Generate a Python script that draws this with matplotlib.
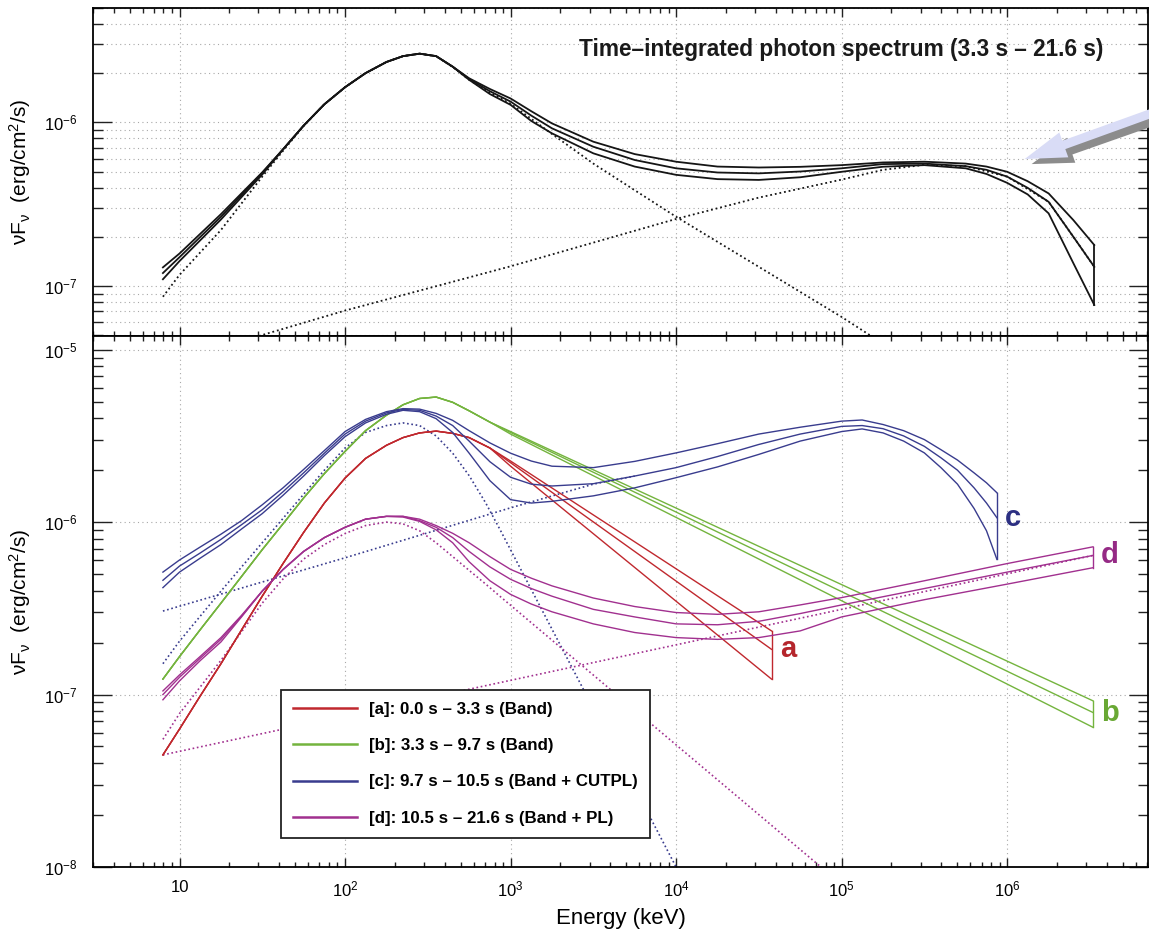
import numpy as np
import matplotlib
matplotlib.use("Agg")
import matplotlib.pyplot as plt
from matplotlib.ticker import LogLocator, FixedLocator, FuncFormatter, NullFormatter
from matplotlib.lines import Line2D

plt.rcParams['font.family'] = ['Liberation Sans', 'DejaVu Sans']
plt.rcParams['mathtext.fontset'] = 'custom'
plt.rcParams['mathtext.rm'] = 'Liberation Sans'
plt.rcParams['mathtext.it'] = 'Liberation Sans:italic'
plt.rcParams['mathtext.bf'] = 'Liberation Sans:bold'

# ---- time-integrated spectrum (upper panel), keV and erg/cm^2/s ----
top_energy = [7.94, 10, 17.8, 31.6, 42.2, 56.2, 75, 100, 133, 178, 224, 282, 355,
              447, 562, 750, 1000, 1334, 1778, 3162, 5623, 1e4, 1.78e4, 3.16e4,
              5.62e4, 1e5, 1.78e5, 3.16e5, 5.62e5, 7.5e5, 1e6, 1.33e6, 1.78e6,
              2.51e6, 3.36e6]
top_mid = [1.20e-7, 1.50e-7, 2.65e-7, 4.90e-7, 6.84e-7, 9.55e-7, 1.29e-6, 1.64e-6,
           2.00e-6, 2.34e-6, 2.54e-6, 2.63e-6, 2.54e-6, 2.19e-6, 1.84e-6, 1.55e-6,
           1.34e-6, 1.10e-6, 9.20e-7, 7.10e-7, 5.89e-7, 5.24e-7, 4.94e-7, 4.88e-7,
           5.01e-7, 5.24e-7, 5.56e-7, 5.60e-7, 5.40e-7, 5.13e-7, 4.66e-7, 3.98e-7,
           3.27e-7, 2.00e-7, 1.31e-7]
top_hi = [1.30e-7, 1.58e-7, 2.75e-7, 4.95e-7, 6.84e-7, 9.55e-7, 1.29e-6, 1.64e-6,
          2.00e-6, 2.34e-6, 2.54e-6, 2.63e-6, 2.54e-6, 2.19e-6, 1.86e-6, 1.60e-6,
          1.40e-6, 1.17e-6, 9.86e-7, 7.62e-7, 6.40e-7, 5.75e-7, 5.37e-7, 5.30e-7,
          5.35e-7, 5.48e-7, 5.69e-7, 5.75e-7, 5.60e-7, 5.37e-7, 4.99e-7, 4.37e-7,
          3.68e-7, 2.53e-7, 1.78e-7]
top_lo = [1.10e-7, 1.42e-7, 2.55e-7, 4.80e-7, 6.84e-7, 9.55e-7, 1.29e-6, 1.64e-6,
          2.00e-6, 2.34e-6, 2.54e-6, 2.63e-6, 2.54e-6, 2.19e-6, 1.82e-6, 1.49e-6,
          1.28e-6, 1.02e-6, 8.57e-7, 6.47e-7, 5.37e-7, 4.78e-7, 4.50e-7, 4.45e-7,
          4.62e-7, 4.99e-7, 5.36e-7, 5.48e-7, 5.24e-7, 4.84e-7, 4.27e-7, 3.63e-7,
          2.78e-7, 1.38e-7, 7.66e-8]

top_band_energy = [7.94, 10, 17.8, 31.6, 42.2, 56.2, 75, 100, 133, 178, 224, 282,
                   355, 447, 562, 750, 1000, 1778, 3162, 5623, 1e4, 3.16e4, 1e5, 1.58e5]
top_band_flux = [8.6e-8, 1.17e-7, 2.2e-7, 4.66e-7, 6.7e-7, 9.5e-7, 1.29e-6, 1.64e-6,
                 2.0e-6, 2.34e-6, 2.54e-6, 2.63e-6, 2.54e-6, 2.18e-6, 1.82e-6,
                 1.52e-6, 1.3e-6, 8.5e-7, 5.6e-7, 3.85e-7, 2.65e-7, 1.31e-7,
                 6.47e-8, 4.8e-8]
top_pl_energy = [25, 100, 1e3, 1e4, 3.16e4, 1e5, 1.78e5, 3.16e5, 5.62e5, 1e6,
                 1.78e6, 2.51e6, 3.36e6]
top_pl_flux = [4.68e-8, 7.08e-8, 1.32e-7, 2.57e-7, 3.47e-7, 4.47e-7, 5.13e-7,
               5.5e-7, 5.4e-7, 4.66e-7, 3.27e-7, 2.0e-7, 1.31e-7]

# ---- [a] 0.0-3.3 s, Band ----
a_energy = [7.94, 10, 13.3, 17.8, 23.7, 31.6, 42.2, 56.2, 75, 100, 133, 178, 224,
            282, 355, 447, 562, 750, 1000, 3.77e4]
a_mid = [4.47e-8, 6.31e-8, 9.77e-8, 1.51e-7, 2.37e-7, 3.72e-7, 5.75e-7, 8.71e-7,
         1.29e-6, 1.80e-6, 2.34e-6, 2.79e-6, 3.09e-6, 3.29e-6, 3.37e-6, 3.27e-6,
         3.09e-6, 2.69e-6, 2.21e-6, 1.83e-7]
a_hi = a_mid[:-2] + [2.26e-6, 2.34e-7]
a_lo = a_mid[:-2] + [2.11e-6, 1.23e-7]

# ---- [b] 3.3-9.7 s, Band ----
b_energy = [7.94, 10, 13.3, 17.8, 23.7, 31.6, 42.2, 56.2, 75, 100, 133, 178, 224,
            282, 355, 447, 562, 750, 1000, 3.3e6]
b_mid = [1.23e-7, 1.66e-7, 2.37e-7, 3.39e-7, 4.84e-7, 6.92e-7, 9.77e-7, 1.38e-6,
         1.91e-6, 2.57e-6, 3.39e-6, 4.17e-6, 4.79e-6, 5.21e-6, 5.31e-6, 4.95e-6,
         4.42e-6, 3.80e-6, 3.31e-6, 7.87e-8]
b_hi = b_mid[:-2] + [3.35e-6, 9.2e-8]
b_lo = b_mid[:-2] + [3.24e-6, 6.46e-8]

# ---- [c] 9.7-10.5 s, Band + CUTPL ----
c_energy = [7.94, 10, 13.3, 17.8, 23.7, 31.6, 42.2, 56.2, 75, 100, 133, 178, 224,
            282, 355, 447, 562, 750, 1000, 1334, 1778, 3162, 5623, 1e4, 1.78e4,
            3.16e4, 5.62e4, 1e5, 1.33e5, 1.78e5, 2.37e5, 3.16e5, 3.98e5, 5.01e5,
            6.31e5, 7.5e5, 8.67e5]
c_mid = [4.60e-7, 5.56e-7, 6.61e-7, 7.94e-7, 9.66e-7, 1.18e-6, 1.50e-6, 1.93e-6,
         2.51e-6, 3.24e-6, 3.85e-6, 4.30e-6, 4.50e-6, 4.45e-6, 4.12e-6, 3.63e-6,
         2.95e-6, 2.24e-6, 1.82e-6, 1.66e-6, 1.62e-6, 1.67e-6, 1.85e-6, 2.07e-6,
         2.40e-6, 2.82e-6, 3.24e-6, 3.59e-6, 3.63e-6, 3.48e-6, 3.16e-6, 2.75e-6,
         2.36e-6, 2.00e-6, 1.58e-6, 1.29e-6, 1.06e-6]
c_hi = [5.13e-7, 6.03e-7, 7.16e-7, 8.51e-7, 1.02e-6, 1.26e-6, 1.58e-6, 2.02e-6,
        2.60e-6, 3.35e-6, 3.94e-6, 4.37e-6, 4.55e-6, 4.52e-6, 4.27e-6, 3.89e-6,
        3.39e-6, 2.88e-6, 2.51e-6, 2.26e-6, 2.11e-6, 2.07e-6, 2.25e-6, 2.52e-6,
        2.85e-6, 3.24e-6, 3.55e-6, 3.85e-6, 3.91e-6, 3.68e-6, 3.39e-6, 3.01e-6,
        2.63e-6, 2.29e-6, 1.93e-6, 1.69e-6, 1.48e-6]
c_lo = [4.17e-7, 5.13e-7, 6.17e-7, 7.41e-7, 9.12e-7, 1.12e-6, 1.43e-6, 1.85e-6,
        2.43e-6, 3.13e-6, 3.76e-6, 4.22e-6, 4.45e-6, 4.37e-6, 3.98e-6, 3.31e-6,
        2.51e-6, 1.74e-6, 1.35e-6, 1.29e-6, 1.32e-6, 1.42e-6, 1.58e-6, 1.81e-6,
        2.09e-6, 2.47e-6, 2.95e-6, 3.35e-6, 3.47e-6, 3.29e-6, 2.95e-6, 2.52e-6,
        2.07e-6, 1.66e-6, 1.20e-6, 8.91e-7, 6.08e-7]
c_band_energy = [7.94, 10, 17.8, 31.6, 56.2, 75, 100, 133, 178, 224, 282, 355, 447,
                 562, 708, 871, 1e4, 1.26e4]
c_band_flux = [1.51e-7, 2.04e-7, 3.98e-7, 7.59e-7, 1.45e-6, 2.0e-6, 2.69e-6,
               3.31e-6, 3.63e-6, 3.76e-6, 3.63e-6, 3.16e-6, 2.51e-6, 1.86e-6,
               1.29e-6, 8.91e-7, 1.0e-8, 6.6e-9]
c_cutpl_energy = [7.94, 100, 1e3, 3162, 5623]
c_cutpl_flux = [3.05e-7, 6.21e-7, 1.21e-6, 1.66e-6, 1.85e-6]

# ---- [d] 10.5-21.6 s, Band + PL ----
d_energy = [7.94, 10, 13.3, 17.8, 23.7, 31.6, 42.2, 56.2, 75, 100, 133, 178, 224,
            282, 355, 447, 562, 750, 1000, 1334, 1778, 3162, 5623, 1e4, 1.78e4,
            3.16e4, 5.62e4, 1e5, 3.16e5, 1e6, 3.3e6]
d_mid = [1.0e-7, 1.26e-7, 1.62e-7, 2.09e-7, 2.85e-7, 3.98e-7, 5.31e-7, 6.76e-7,
         8.13e-7, 9.33e-7, 1.04e-6, 1.08e-6, 1.08e-6, 1.02e-6, 9.33e-7, 8.13e-7,
         6.76e-7, 5.50e-7, 4.66e-7, 4.12e-7, 3.72e-7, 3.12e-7, 2.82e-7, 2.57e-7,
         2.54e-7, 2.66e-7, 2.95e-7, 3.31e-7, 4.12e-7, 5.13e-7, 6.41e-7]
d_hi = [1.05e-7, 1.30e-7, 1.66e-7, 2.14e-7, 2.88e-7, 3.98e-7, 5.31e-7, 6.76e-7,
        8.13e-7, 9.33e-7, 1.04e-6, 1.08e-6, 1.08e-6, 1.04e-6, 9.55e-7, 8.61e-7,
        7.59e-7, 6.31e-7, 5.32e-7, 4.73e-7, 4.27e-7, 3.63e-7, 3.24e-7, 2.99e-7,
        2.92e-7, 3.02e-7, 3.31e-7, 3.65e-7, 4.57e-7, 5.75e-7, 7.19e-7]
d_lo = [9.33e-8, 1.20e-7, 1.57e-7, 2.02e-7, 2.82e-7, 3.98e-7, 5.31e-7, 6.76e-7,
        8.13e-7, 9.33e-7, 1.04e-6, 1.08e-6, 1.07e-6, 1.01e-6, 9.02e-7, 7.59e-7,
        5.89e-7, 4.57e-7, 3.81e-7, 3.35e-7, 3.02e-7, 2.57e-7, 2.29e-7, 2.14e-7,
        2.09e-7, 2.14e-7, 2.34e-7, 2.82e-7, 3.55e-7, 4.37e-7, 5.44e-7]
d_band_energy = [7.94, 10, 17.8, 31.6, 42.2, 56.2, 75, 100, 133, 178, 224, 282,
                 355, 447, 562, 708, 861, 7.41e4, 1e5]
d_band_flux = [5.5e-8, 7.76e-8, 1.58e-7, 3.39e-7, 4.68e-7, 6.10e-7, 7.41e-7,
               8.59e-7, 9.55e-7, 1.0e-6, 9.77e-7, 8.91e-7, 7.59e-7, 6.31e-7,
               5.25e-7, 4.37e-7, 3.72e-7, 1.01e-8, 7.9e-9]
d_pl_energy = [7.94, 3.3e6]
d_pl_flux = [4.47e-8, 6.41e-7]

legend_labels = ["[a]: 0.0 s \u2013 3.3 s (Band)",
                 "[b]: 3.3 s \u2013 9.7 s (Band)",
                 "[c]: 9.7 s \u2013 10.5 s (Band + CUTPL)",
                 "[d]: 10.5 s \u2013 21.6 s (Band + PL)"]
line_colors = ['#c0282e', '#74b43e', '#393c8e', '#a1308f']
letter_colors = ['#b5262c', '#69a834', '#2c2f82', '#952a85']

DOT = (0, (1.0, 1.6))
GRID = dict(color='#a8a8a8', linestyle=(0, (1, 3)), linewidth=0.8)


def draw_fit(ax, energy, hi, mid, lo, color, lw=1.0):
    for f in (hi, mid, lo):
        ax.plot(energy, f, color=color, lw=lw, zorder=3)
    ax.plot([energy[-1], energy[-1]], [lo[-1], hi[-1]], color=color, lw=lw, zorder=3)


def x_label(v, pos):
    n = int(round(np.log10(v)))
    return '10' if n == 1 else r'$10^{%d}$' % n


def setup(ax, ylim):
    ax.set_xscale('log')
    ax.set_yscale('log')
    ax.set_xlim(3.0, 7.1e6)
    ax.set_ylim(*ylim)
    ax.xaxis.set_major_locator(FixedLocator([1e1, 1e2, 1e3, 1e4, 1e5, 1e6]))
    ax.xaxis.set_minor_locator(LogLocator(base=10, subs=np.arange(2, 10), numticks=100))
    ax.yaxis.set_major_locator(LogLocator(base=10, numticks=20))
    ax.yaxis.set_minor_locator(LogLocator(base=10, subs=np.arange(2, 10), numticks=100))
    ax.xaxis.set_major_formatter(FuncFormatter(x_label))
    ax.xaxis.set_minor_formatter(NullFormatter())
    ax.yaxis.set_minor_formatter(NullFormatter())
    ax.tick_params(which='both', direction='in', top=True, right=True,
                   labelsize=12, width=1.0, color='#222222')
    ax.tick_params(axis='x', which='major', length=6.5, pad=9)
    ax.tick_params(axis='x', which='minor', length=3.5)
    ax.tick_params(axis='y', which='major', length=14, pad=11)
    ax.tick_params(axis='y', which='minor', length=7)
    for s in ax.spines.values():
        s.set_linewidth(1.3)
    ax.set_axisbelow(True)
    ax.grid(which='major', axis='both', **GRID)
    ax.set_ylabel('νF$_\\mathrm{ν}$  (erg/cm$^2$/s)', fontsize=15)
    ax.yaxis.set_label_coords(-0.057, 0.5)


fig = plt.figure(figsize=(11.49, 9.31), dpi=100)
ax_top = fig.add_axes([0.0809, 0.6391, 0.9183, 0.3523])
ax_bot = fig.add_axes([0.0809, 0.0687, 0.9183, 0.5704])

# upper panel
setup(ax_top, (4.95e-8, 5.0e-6))
ax_top.grid(which='minor', axis='y', **GRID)
ax_top.tick_params(labelbottom=False)
draw_fit(ax_top, top_energy, top_hi, top_mid, top_lo, '#151515', lw=1.3)
ax_top.plot(top_band_energy, top_band_flux, color='#151515', ls=DOT, lw=1.3, zorder=2)
ax_top.plot(top_pl_energy, top_pl_flux, color='#151515', ls=DOT, lw=1.3, zorder=2)
ax_top.text(0.958, 0.872, 'Time\u2013integrated photon spectrum (3.3 s \u2013 21.6 s)',
            transform=ax_top.transAxes, ha='right', va='center',
            fontsize=16.3, fontweight='bold', color='#1a1a1a')

# lower panel
setup(ax_bot, (1.0e-8, 1.2e-5))
ax_bot.set_xlabel('Energy (keV)', fontsize=16, labelpad=6)

ax_bot.plot(c_band_energy, c_band_flux, color=line_colors[2], ls=DOT, lw=1.2, zorder=2)
ax_bot.plot(c_cutpl_energy, c_cutpl_flux, color=line_colors[2], ls=DOT, lw=1.2, zorder=2)
ax_bot.plot(d_band_energy, d_band_flux, color=line_colors[3], ls=DOT, lw=1.2, zorder=2)
ax_bot.plot(d_pl_energy, d_pl_flux, color=line_colors[3], ls=DOT, lw=1.2, zorder=2)

fits = [(a_energy, a_hi, a_mid, a_lo), (b_energy, b_hi, b_mid, b_lo),
        (c_energy, c_hi, c_mid, c_lo), (d_energy, d_hi, d_mid, d_lo)]
for (e, hi, mid, lo), col in zip(fits, line_colors):
    draw_fit(ax_bot, e, hi, mid, lo, col)

# letters at the high-energy end of each fit
for (e, hi, mid, lo), letter, col in zip(fits, 'abcd', letter_colors):
    ax_bot.text(e[-1] * 1.12, mid[-1], letter, color=col, fontsize=21,
                fontweight='bold', ha='left', va='center')

handles = [Line2D([], [], color=c, lw=1.8) for c in line_colors]
leg = ax_bot.legend(handles, legend_labels, loc='lower left',
                    bbox_to_anchor=(0.178, 0.055), borderaxespad=0,
                    prop={'size': 12.2, 'weight': 'bold'}, handlelength=3.8,
                    handletextpad=0.7, labelspacing=1.25, borderpad=0.72,
                    fancybox=False, framealpha=1.0, edgecolor='#222222')
leg.get_frame().set_linewidth(1.3)
leg.set_zorder(5)

# pointer arrow at the right edge of the upper panel (shadow first)
H = 931
arrow_style = 'simple,head_length=1.5,head_width=0.95,tail_width=0.32'
ax_top.annotate('', xy=(1029, H - 165), xycoords='figure pixels',
                xytext=(1160, H - 119), textcoords='figure pixels',
                arrowprops=dict(arrowstyle=arrow_style, fc='#8c8c8c', ec='none',
                                mutation_scale=20),
                annotation_clip=False)
ax_top.annotate('', xy=(1022, H - 160), xycoords='figure pixels',
                xytext=(1155, H - 112), textcoords='figure pixels',
                arrowprops=dict(arrowstyle=arrow_style, fc='#d9dcf6', ec='none',
                                mutation_scale=20),
                annotation_clip=False)

fig.savefig('out.png', dpi=100, facecolor='white')
